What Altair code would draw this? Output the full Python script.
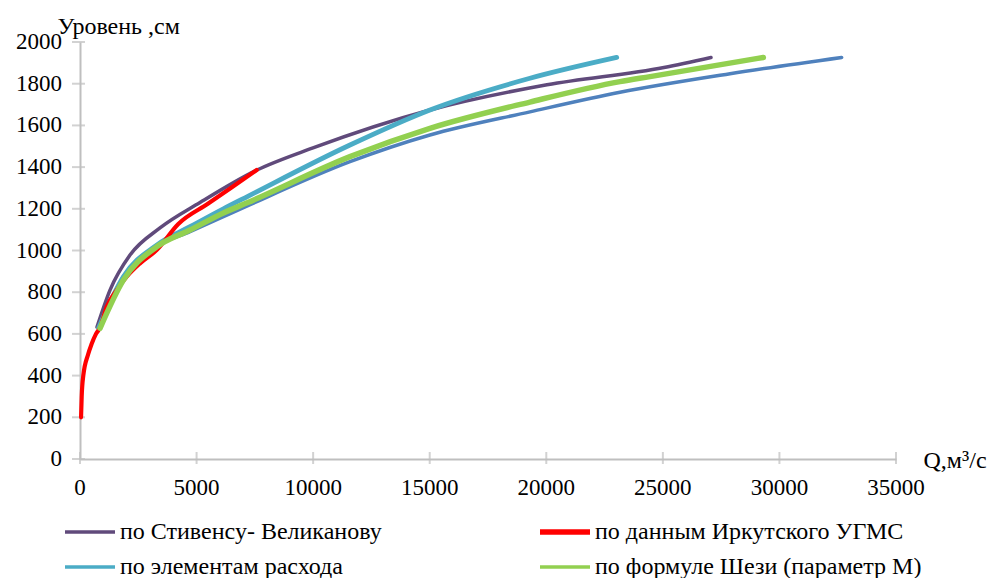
import altair as alt
import pandas as pd

FONT = "Liberation Serif"

# --- series names ---
s_stev = "по Стивенсу- Великанову"
s_irk = "по данным Иркутского УГМС"
s_elem = "по элементам расхода"
s_shezi = "по формуле Шези (параметр М)"

# --- values ---
q_stev = [729, 1287, 2145, 3431, 5147, 7592, 9994, 15012, 20030, 25048, 27064]
h_stev = [633, 810, 978, 1108, 1230, 1386, 1492, 1674, 1795, 1878, 1926]

q_irk = [45, 73, 142, 343, 493, 686, 860, 1145, 1573, 2002, 2573, 3288, 4217, 5500, 6500, 7580]
h_irk = [200, 300, 400, 500, 550, 600, 630, 730, 810, 874, 938, 1002, 1127, 1225, 1302, 1386]

q_elem = [800, 1860, 3290, 4720, 6150, 7200, 11580, 15010, 19300, 23020]
h_elem = [630, 874, 1026, 1114, 1200, 1260, 1506, 1674, 1826, 1926]

q_shezi = [858, 1860, 3290, 4720, 6150, 7200, 11580, 15010, 19300, 23160, 24450, 29310]
h_shezi = [627, 858, 1018, 1098, 1180, 1230, 1450, 1586, 1712, 1810, 1834, 1926]

# fifth (blue) series, not listed in the visible legend
q_blue = [830, 1860, 3290, 4720, 6150, 7200, 11580, 15010, 19300, 23160, 27880, 32670]
h_blue = [628, 870, 1020, 1090, 1162, 1215, 1426, 1554, 1665, 1759, 1848, 1926]

x_ticks = [0, 5000, 10000, 15000, 20000, 25000, 30000, 35000]
y_ticks = [0, 200, 400, 600, 800, 1000, 1200, 1400, 1600, 1800, 2000]

legend_names = [s_stev, s_irk, s_elem, s_shezi]
legend_colors = ["#604A7B", "#FF0000", "#4BACC6", "#92D050"]
legend_col = [0, 1, 0, 1]
legend_row = [0, 0, 1, 1]
line_widths = [3.5, 5.5, 3.5, 3.5]
blue_color = "#4F81BD"

# --- tables ---
def table(name, qs, hs):
    return pd.DataFrame({"series": name, "Q": qs, "H": hs})

series_data = {
    s_stev: table(s_stev, q_stev, h_stev),
    s_irk: table(s_irk, q_irk, h_irk),
    s_elem: table(s_elem, q_elem, h_elem),
    s_shezi: table(s_shezi, q_shezi, h_shezi),
}
df_blue = pd.DataFrame({"Q": q_blue, "H": h_blue})
df_xt = pd.DataFrame({"Q": x_ticks})
df_yt = pd.DataFrame({"H": y_ticks})
df_leg = pd.DataFrame({
    "series": legend_names, "color": legend_colors,
    "col": legend_col, "row": legend_row, "w": line_widths,
})

GRAY = "#BFBFBF"

x_axis = alt.Axis(
    values=x_ticks, grid=False, ticks=False, labels=False,
    domainColor=GRAY, domainWidth=2,
    title="Q,м³/с", titleFont=FONT, titleFontSize=24, titleFontWeight="normal",
    titleColor="black", titleAlign="left", titleBaseline="middle",
    titleX=843, titleY=1, titleAnchor="start",
)
y_axis = alt.Axis(
    values=y_ticks, grid=False, ticks=False, labels=False,
    domainColor=GRAY, domainWidth=2,
    title="Уровень ,см", titleFont=FONT, titleFontSize=24, titleFontWeight="normal",
    titleColor="black", titleAngle=0, titleAlign="left", titleBaseline="alphabetic",
    titleX=-23, titleY=-9, titleAnchor="start",
)
x_scale = alt.Scale(domain=[0, 35000], nice=False, zero=True)
y_scale = alt.Scale(domain=[0, 2000], nice=False, zero=True)

X = alt.X("Q:Q", scale=x_scale, axis=x_axis)
Y = alt.Y("H:Q", scale=y_scale, axis=y_axis)

color_scale = alt.Scale(domain=legend_names, range=legend_colors)
width_scale = alt.Scale(domain=legend_names, range=line_widths)


def series_line(name):
    return alt.Chart(series_data[name]).mark_line(
        interpolate="monotone", strokeCap="round"
    ).encode(
        x=X, y=Y,
        color=alt.Color("series:N", scale=color_scale, legend=None),
        strokeWidth=alt.StrokeWidth("series:N", scale=width_scale, legend=None),
    )


blue = alt.Chart(df_blue).mark_line(
    color=blue_color, strokeWidth=3.5, interpolate="monotone", strokeCap="round"
).encode(x=X, y=Y)

# axis ticks crossing the axis lines
yt = alt.Chart(df_yt).mark_tick(
    orient="horizontal", size=13, thickness=2, color=GRAY, xOffset=-1.5
).encode(y=Y, x=alt.datum(0, scale=x_scale))
xt = alt.Chart(df_xt).mark_tick(
    orient="vertical", size=12, thickness=2, color=GRAY, yOffset=-1
).encode(x=X, y=alt.datum(0, scale=y_scale))

# tick labels
text_style = dict(font=FONT, fontWeight="normal", fontStyle="normal", color="black")
ylab = alt.Chart(df_yt).mark_text(
    fontSize=23, align="right", baseline="middle", dx=-18, **text_style
).encode(y=Y, x=alt.datum(0, scale=x_scale), text=alt.Text("H:Q", format="d"))
xlab = alt.Chart(df_xt).mark_text(
    fontSize=23, align="center", baseline="middle", dy=29, **text_style
).encode(x=X, y=alt.datum(0, scale=y_scale), text=alt.Text("Q:Q", format="d"))

# legend (two columns, two rows) below the plot
leg_base = alt.Chart(df_leg).transform_calculate(
    xs="-15 + datum.col * 475",
    xe="35 + datum.col * 475",
    xt="40 + datum.col * 475",
    ys="490 + datum.row * 35",
)
leg_sym = leg_base.mark_rule(strokeCap="butt").encode(
    x=alt.X("xs:Q", scale=None), x2="xe:Q", y=alt.Y("ys:Q", scale=None),
    color=alt.Color("color:N", scale=None),
    strokeWidth=alt.StrokeWidth("w:Q", scale=None),
)
leg_txt = leg_base.mark_text(
    fontSize=24, align="left", baseline="middle", **text_style
).encode(
    x=alt.X("xt:Q", scale=None), y=alt.Y("ys:Q", scale=None), text="series:N",
)

chart = alt.layer(
    yt, xt, ylab, xlab, blue,
    series_line(s_stev), series_line(s_elem), series_line(s_irk), series_line(s_shezi),
    leg_sym, leg_txt,
).properties(
    width=816, height=417,
    autosize=alt.AutoSizeParams(type="none"),
    padding={"left": 80, "top": 42, "right": 99, "bottom": 119},
    background="white",
).configure(font=FONT).configure_view(stroke=None).configure_text(font=FONT)

chart.save("out.html", embed_options={"renderer": "svg", "actions": False})
